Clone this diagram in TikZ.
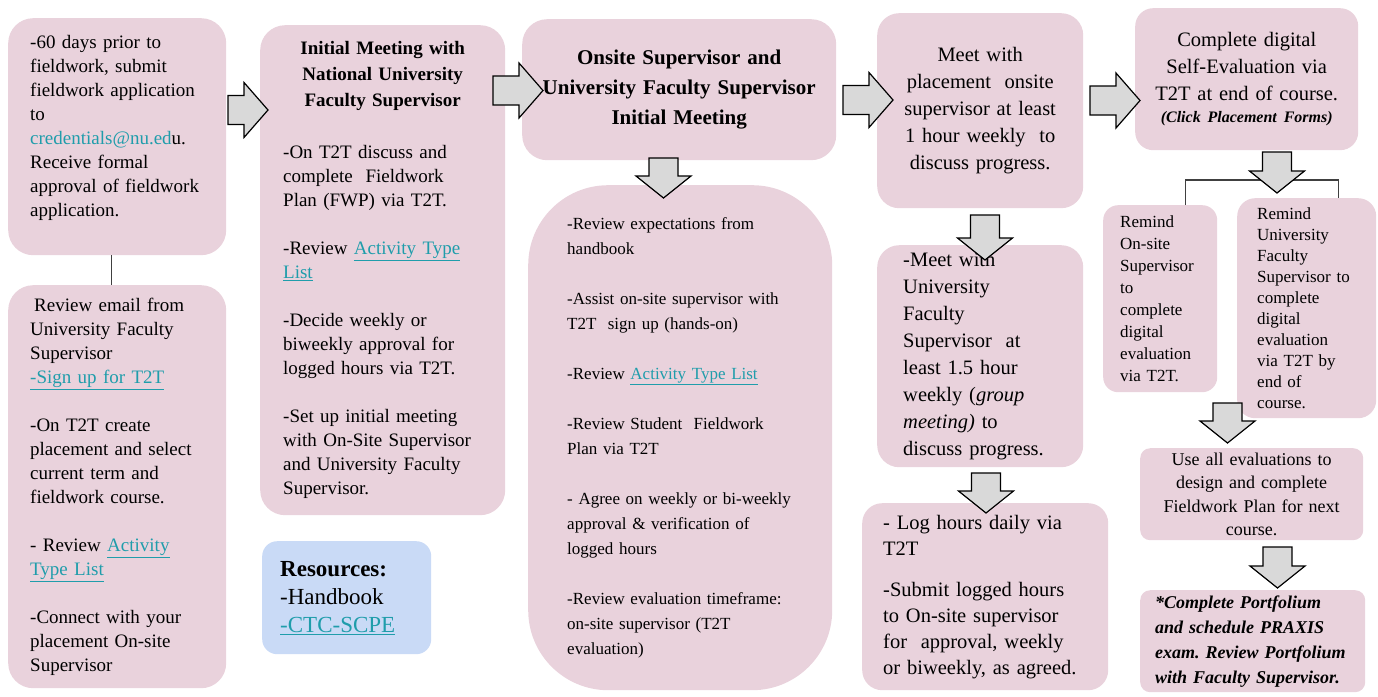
\documentclass[tikz,border=0pt]{standalone}
\usepackage{fontspec}
\setmainfont{Liberation Serif}
\definecolor{pinkbg}{HTML}{E9D2DC}
\definecolor{bluebg}{HTML}{C9DAF6}
\definecolor{linkc}{HTML}{1F9DAB}
\definecolor{arrgray}{HTML}{D9D9D9}
\newcommand{\lnk}[1]{{\color{linkc}\underline{#1}}}
\newcommand{\titleline}[1]{\makebox[\hsize]{\bfseries #1}}
\frenchspacing

\begin{document}
\begin{tikzpicture}[x=1pt, y=-1pt,
	pbox/.style={fill=pinkbg, rounded corners=#1, anchor=north west, inner ysep=0pt},
	pbox/.default=22pt,
	blkarr/.style={draw=black, line width=1.2pt, fill=arrgray},
	pics/rblk/.style={code={\draw[blkarr] (0,-14.5) -- (#1-24,-14.5) -- (#1-24,-27.5) -- (#1,0) -- (#1-24,27.5) -- (#1-24,14.5) -- (0,14.5) -- cycle;}},
	pics/dblk/.style={code={\draw[blkarr] (-14.5,0) -- (-14.5,#1-22) -- (-27.5,#1-22) -- (0,#1) -- (27.5,#1-22) -- (14.5,#1-22) -- (14.5,0) -- cycle;}}]
	\useasboundingbox (0,0) rectangle (1378,696);

	% first column
	\node[pbox=25pt, minimum width=218pt, minimum height=237pt, text width=174pt, inner xsep=22pt, align=left, font=\fontsize{19}{24}\selectfont] (a1) at (8,18) {-60 days prior to\\ fieldwork, submit\\ fieldwork application\\ to\\ {\color{linkc}credentials@nu.ed}u.\\ Receive formal\\ approval of fieldwork\\ application.\\[-2pt] \mbox{}};
	\node[pbox=25pt, minimum width=218pt, minimum height=403pt, text width=174pt, inner xsep=22pt, align=left, font=\fontsize{19}{24}\selectfont] (a2) at (8,285) {\hspace{4pt}Review email from\\ University Faculty\\ Supervisor\\ \lnk{-Sign up for T2T}\\[24pt] -On T2T create\\ placement and select\\ current term and\\ fieldwork course.\\[24pt] - Review \lnk{Activity}\\ \lnk{Type List}\\[24pt] -Connect with your\\ placement On-site\\ Supervisor};
	\draw[line width=1.2pt, black!75] ([xshift=-6pt]a1.south) -- ([xshift=-6pt]a2.north);

	% second column
	\node[pbox=25pt, minimum width=245pt, minimum height=490pt, text width=199pt, inner xsep=23pt, align=left, font=\fontsize{19}{24}\selectfont] (b) at (260,25) {\titleline{Initial Meeting with}\\[2pt] \titleline{National University}\\[2pt] \titleline{Faculty Supervisor}\\[28pt] -On T2T discuss and\\ complete\ \ Fieldwork\\ Plan (FWP) via T2T.\\[24pt] -Review \lnk{Activity Type}\\ \lnk{List}\\[24pt] -Decide weekly or\\ biweekly approval for\\ logged hours via T2T.\\[24pt] -Set up initial meeting\\ with On-Site Supervisor\\ and University Faculty\\ Supervisor.};
	\node[pbox=15pt, fill=bluebg, minimum width=169pt, minimum height=113pt, text width=133pt, inner xsep=18pt, align=left, font=\fontsize{23}{28}\selectfont] (res) at (262,541) {{\bfseries Resources:}\\ -Handbook\\ \lnk{-CTC-SCPE}};

	% third column
	\node[pbox=25pt, minimum width=314pt, minimum height=141pt, text width=294pt, inner xsep=10pt, align=center, font=\fontsize{21}{30}\selectfont\bfseries] (c1) at (522,19) {Onsite Supervisor and\\ University Faculty Supervisor\\ Initial Meeting};
	\node[pbox=80pt, minimum width=304pt, minimum height=505pt, text width=226pt, inner xsep=39pt, align=left, font=\fontsize{17}{25}\selectfont] (c2) at (528,185) {-Review expectations from\\ handbook\\[25pt] -Assist on-site supervisor with\\ T2T\ \ sign up (hands-on)\\[25pt] -Review \lnk{Activity Type List}\\[25pt] -Review Student\ \ Fieldwork\\ Plan via T2T\\[25pt] - Agree on weekly or bi-weekly\\ approval \& verification of\\ logged hours\\[25pt] -Review evaluation timeframe:\\ on-site supervisor (T2T\\ evaluation)};

	% fourth column
	\node[pbox=22pt, minimum width=206pt, minimum height=195pt, text width=186pt, inner xsep=10pt, align=center, font=\fontsize{20.5}{27}\selectfont] (d1) at (877,13) {Meet with\\ placement\ \ onsite\\ supervisor at least\\ 1 hour weekly\ \ to\\ discuss progress.};
	\node[pbox=22pt, minimum width=206pt, minimum height=222pt, text width=154pt, inner xsep=26pt, align=left, font=\fontsize{20.5}{27}\selectfont] (d2) at (877,245) {-Meet with\\ University\\ Faculty\\ Supervisor\ \ at\\ least 1.5 hour\\ weekly (\textit{group}\\ \textit{meeting)} to\\ discuss progress.};
	\node[pbox=20pt, minimum width=246pt, minimum height=187pt, text width=204pt, inner xsep=21pt, align=left, font=\fontsize{20.5}{26}\selectfont] (d3) at (862,503) {- Log hours daily via\\ T2T\\[15pt] -Submit logged hours\\ to On-site supervisor\\ for\ \ approval, weekly\\ or biweekly, as agreed.};

	% fifth column
	\node[pbox=18pt, minimum width=223pt, minimum height=142pt, text width=203pt, inner xsep=10pt, align=center, font=\fontsize{20.5}{27}\selectfont] (e1) at (1135,8) {Complete digital\\ Self-Evaluation via\\ T2T at end of course.\\[-5pt] {\fontsize{16}{18}\selectfont\bfseries\itshape (Click Placement Forms)}};
	\node[pbox=15pt, minimum width=114pt, minimum height=187pt, text width=80pt, inner xsep=17pt, align=left, font=\fontsize{17}{22}\selectfont] (e2) at (1103,205) {Remind\\ On-site\\ Supervisor\\ to\\ complete\\ digital\\ evaluation\\ via T2T.};
	\node[pbox=18pt, minimum width=139pt, minimum height=220pt, text width=99pt, inner xsep=20pt, align=left, font=\fontsize{17}{21}\selectfont] (e3) at (1237,198) {Remind\\ University\\ Faculty\\ Supervisor to\\ complete\\ digital\\ evaluation\\ via T2T by\\ end of\\ course.};
	\node[pbox=10pt, minimum width=223pt, minimum height=92pt, text width=213pt, inner xsep=5pt, align=center, font=\fontsize{18}{23.5}\selectfont] (e4) at (1140,448) {Use all evaluations to\\ design and complete\\ Fieldwork Plan for next\\ course.};
	\node[pbox=10pt, minimum width=225pt, minimum height=102pt, text width=195pt, inner xsep=15pt, align=left, font=\fontsize{18}{25}\selectfont\bfseries\itshape] (e5) at (1140,590) {*Complete Portfolium\\ and schedule PRAXIS\\ exam. Review Portfolium\\ with Faculty Supervisor.};
	\draw[line width=1.2pt, black!75] ([xshift=25pt]e2.north) -- ++(0,-25) -| ([xshift=31.5pt]e3.north);

	% block arrows
	\pic (arab) at (228,110) {rblk=40};
	\pic (arbc) at (493,90.5) {rblk=50};
	\pic (arcd) at (843,100) {rblk=50};
	\pic (arde) at (1090,100.5) {rblk=50};
	\pic (arcc) at (663.5,158) {dblk=40};
	\pic (ardd) at (985,215) {dblk=45};
	\pic (ardf) at (986,473) {dblk=40};
	\pic (aree) at (1277,152) {dblk=41};
	\pic (aref) at (1227.5,403) {dblk=40};
	\pic (areg) at (1277.5,547) {dblk=41};
\end{tikzpicture}
\end{document}
